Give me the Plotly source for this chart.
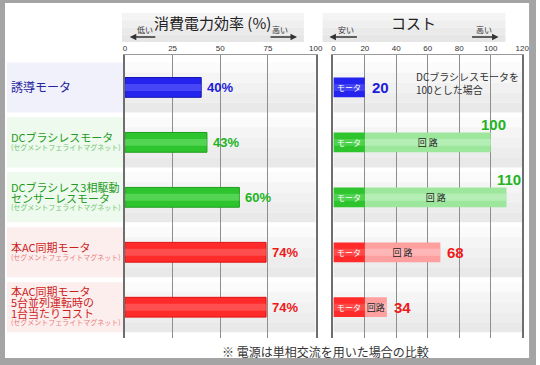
import plotly.graph_objects as go

# ---------------- data ----------------
categories = [
    "誘導モータ",
    "DCブラシレスモータ",
    "DCブラシレス3相駆動センサーレスモータ",
    "本AC同期モータ",
    "本AC同期モータ5台並列運転時の1台当たりコスト",
]
label_lines = [
    ["誘導モータ"],
    ["DCブラシレスモータ"],
    ["DCブラシレス3相駆動", "センサーレスモータ"],
    ["本AC同期モータ"],
    ["本AC同期モータ", "5台並列運転時の", "1台当たりコスト"],
]
label_subs = [
    "",
    "(セグメントフェライトマグネット)",
    "(セグメントフェライトマグネット)",
    "(セグメントフェライトマグネット)",
    "(セグメントフェライトマグネット)",
]
efficiency = [40, 43, 60, 74, 74]          # 消費電力効率 (%)
cost_total = [20, 100, 110, 68, 34]        # コスト (DCブラシレス=100)
cost_motor = [20, 20, 20, 20, 20]          # モータ部分
circuit_text = ["", "回 路", "回 路", "回 路", "回路"]
eff_ticks = [0, 25, 50, 75, 100]
cost_ticks = [0, 20, 40, 60, 80, 100, 120]

# ---------------- styles ----------------
W, H = 540, 365
def px(x): return x / W
def py(y): return 1 - y / H

FONT = "Noto Sans CJK JP, sans-serif"
NUMFONT = "Liberation Sans, Arial, sans-serif"

bar_main = ["#2424ee", "#2ec42e", "#2ec42e", "#ff2a2a", "#ff2a2a"]
bar_edge = ["#1414b4", "#1f9e1f", "#1f9e1f", "#e01212", "#e01212"]
bar_hi = ["#6a6aff", "#78e678", "#78e678", "#ff7272", "#ff7272"]
circ_main = ["#9de79d", "#9de79d", "#9de79d", "#ffa0a0", "#ffa0a0"]
circ_hi = ["#c4f3c4", "#c4f3c4", "#c4f3c4", "#ffc4c4", "#ffc4c4"]
val_col = ["#1c1cd8", "#22b422", "#22b422", "#ee1a1a", "#ee1a1a"]
lab_col = ["#24249c", "#1f9a1f", "#1f9a1f", "#cc1c1c", "#cc1c1c"]
sub_col = ["#8888cc", "#6cc46c", "#6cc46c", "#e77a7a", "#e77a7a"]
band_col = ["#f1f1fc", "#eefaee", "#eefaee", "#fdeeee", "#fdeeee"]

BW = 0.36
circuit = [t - m for t, m in zip(cost_total, cost_motor)]

fig = go.Figure()

# left panel : efficiency
fig.add_trace(go.Bar(
    x=efficiency, y=categories, orientation="h", width=BW,
    marker=dict(color=bar_main, line=dict(color=bar_edge, width=1)),
    xaxis="x", yaxis="y", hoverinfo="skip", showlegend=False,
))
fig.add_trace(go.Bar(
    x=efficiency, y=categories, orientation="h", width=BW * 0.35,
    marker=dict(color=bar_hi, line=dict(width=0), opacity=0.5),
    xaxis="x", yaxis="y", hoverinfo="skip", showlegend=False,
))

# right panel : cost (motor + circuit)
fig.add_trace(go.Bar(
    x=circuit, y=categories, base=cost_motor, orientation="h", width=BW,
    marker=dict(color=circ_main, line=dict(width=0)),
    xaxis="x2", yaxis="y2", hoverinfo="skip", showlegend=False,
))
fig.add_trace(go.Bar(
    x=circuit, y=categories, base=cost_motor, orientation="h", width=BW * 0.35,
    marker=dict(color=circ_hi, line=dict(width=0), opacity=0.6),
    text=circuit_text, textposition="inside", insidetextanchor="middle",
    constraintext="none", textangle=0,
    textfont=dict(color="#222222", size=9, family=FONT),
    xaxis="x2", yaxis="y2", hoverinfo="skip", showlegend=False,
))
fig.add_trace(go.Bar(
    x=cost_motor, y=categories, orientation="h", width=BW,
    marker=dict(color=bar_main, line=dict(width=0)),
    xaxis="x2", yaxis="y2", hoverinfo="skip", showlegend=False,
))
fig.add_trace(go.Bar(
    x=cost_motor, y=categories, orientation="h", width=BW * 0.35,
    marker=dict(color=bar_hi, line=dict(width=0), opacity=0.45),
    text=["モータ"] * len(categories), textposition="inside", insidetextanchor="middle",
    constraintext="none", textangle=0,
    textfont=dict(color="white", size=8, family=FONT),
    xaxis="x2", yaxis="y2", hoverinfo="skip", showlegend=False,
))

shapes = []
annotations = []

# row bands (gray gradient) in both panels and coloured label bands
grads = ["#fbfbfb", "#f5f5f5", "#f1f1f1", "#ededed", "#e9e9e9"]
half = 0.455
for i, c in enumerate(categories):
    for xr, yr, xmax in (("x", "y", eff_ticks[-1]), ("x2", "y2", cost_ticks[-1])):
        n = len(grads)
        for k, g in enumerate(grads):
            shapes.append(dict(type="rect", xref=xr, yref=yr, x0=0, x1=xmax,
                               y0=i - half + 2 * half * k / n, y1=i - half + 2 * half * (k + 1) / n,
                               fillcolor=g, line=dict(width=0), layer="below"))
    shapes.append(dict(type="rect", xref="paper", yref="y", x0=px(5), x1=px(123),
                       y0=i - half, y1=i + half, fillcolor=band_col[i],
                       line=dict(width=0), layer="below"))

# label text lines
for i, lines in enumerate(label_lines):
    offs = []
    cur = 0.0
    for j in range(len(lines)):
        offs.append(cur)
        cur += 11
    if label_subs[i]:
        offs.append(offs[-1] + 9.5)
    mid = (offs[0] + offs[-1]) / 2
    texts = lines + ([label_subs[i]] if label_subs[i] else [])
    for j, t in enumerate(texts):
        is_sub = label_subs[i] and j == len(texts) - 1
        annotations.append(dict(
            xref="paper", yref="y", x=px(7), y=i, xanchor="left", yanchor="middle",
            yshift=-(offs[j] - mid) + 0.5, text=t, showarrow=False,
            font=dict(size=7 if is_sub else (12 if i == 0 else 11),
                      color=sub_col[i] if is_sub else lab_col[i], family=FONT)))

# efficiency value labels
for i, v in enumerate(efficiency):
    annotations.append(dict(xref="x", yref="y", x=v, y=i, xanchor="left",
                            yanchor="middle", xshift=4, text=f"<b>{v}%</b>",
                            showarrow=False,
                            font=dict(size=13, color=val_col[i], family=NUMFONT)))

# cost value labels
for i, v in enumerate(cost_total):
    if i in (1, 2):
        annotations.append(dict(xref="x2", yref="y2", x=v, y=i, xanchor="center",
                                yanchor="middle", xshift=3, yshift=18,
                                text=f"<b>{v}</b>", showarrow=False,
                                font=dict(size=15, color=val_col[i], family=NUMFONT)))
    else:
        annotations.append(dict(xref="x2", yref="y2", x=v, y=i, xanchor="left",
                                yanchor="middle", xshift=5, yshift=0,
                                text=f"<b>{v}</b>", showarrow=False,
                                font=dict(size=15, color=val_col[i], family=NUMFONT)))

# header boxes
hgr = ["#f4f4f4", "#efefef", "#eaeaea", "#e6e6e6"]
for x0, x1 in ((122, 307), (326, 512)):
    n = len(hgr)
    for k, g in enumerate(hgr):
        shapes.append(dict(type="rect", xref="paper", yref="paper",
                           x0=px(x0), x1=px(x1),
                           y0=py(13 + 29 * (k + 1) / n), y1=py(13 + 29 * k / n),
                           fillcolor=g, line=dict(width=0), layer="below"))

def ptext(x, y, t, size, color="#222", **kw):
    d = dict(xref="paper", yref="paper", x=px(x), y=py(y), text=t, showarrow=False,
             xanchor="center", yanchor="middle",
             font=dict(size=size, color=color, family=FONT))
    d.update(kw)
    annotations.append(d)

ptext(214, 23, "消費電力効率 (%)", 15)
ptext(418, 23, "コスト", 15)
for tx, t in ((145, "低い"), (283, "高い"), (350, "安い"), (490, "高い")):
    ptext(tx, 29, t, 8, "#333")
for head, ax in ((130, 27), (300, -28), (333, 29), (505, -28)):
    annotations.append(dict(xref="paper", yref="paper", x=px(head), y=py(37), text="",
                            xanchor="center", yanchor="middle",
                            showarrow=True, ax=ax, ay=0, arrowhead=2, arrowsize=1,
                            arrowwidth=1.3, arrowcolor="#333"))

# note box
shapes.append(dict(type="rect", xref="paper", yref="paper", x0=px(408), x1=px(524),
                   y0=py(98), y1=py(68), fillcolor="white", line=dict(width=0), layer="below"))
ptext(419, 83, "DCブラシレスモータを<br>100とした場合", 10, "#333",
      xanchor="left", align="left")

# footnote
ptext(329, 351.5, "※ 電源は単相交流を用いた場合の比較", 12, "#333")

# outer frame
shapes.append(dict(type="rect", xref="paper", yref="paper", x0=0, x1=1, y0=0, y1=1,
                   line=dict(color="#a4a4a4", width=6), fillcolor="rgba(0,0,0,0)"))
shapes.append(dict(type="rect", xref="paper", yref="paper", x0=0, x1=1, y0=0, y1=py(358),
                   line=dict(width=0), fillcolor="#a4a4a4"))
shapes.append(dict(type="rect", xref="paper", yref="paper", x0=px(536), x1=1, y0=0, y1=1,
                   line=dict(width=0), fillcolor="#a4a4a4"))

xcommon = dict(side="top", showgrid=True, gridcolor="#8e8e8e", gridwidth=1.2,
               showline=True, linecolor="#9a9a9a", linewidth=1, ticks="",
               zeroline=False, fixedrange=True,
               tickfont=dict(size=8, color="#333", family=NUMFONT))
ycommon = dict(type="category", range=[4.56, -0.59], showticklabels=False, showgrid=False,
               showline=True, mirror=True, linecolor="#6e6e6e", linewidth=1.5,
               zeroline=False, fixedrange=True, ticks="")

fig.update_layout(
    width=W, height=H, margin=dict(l=0, r=0, t=0, b=0),
    paper_bgcolor="white", plot_bgcolor="white",
    barmode="overlay", showlegend=False,
    xaxis=dict(domain=[px(125), px(319)], range=[0, 100], tickvals=eff_ticks, anchor="y", **xcommon),
    xaxis2=dict(domain=[px(337), px(529)], range=[0, 120], tickvals=cost_ticks, anchor="y2", **xcommon),
    yaxis=dict(domain=[py(338), py(55)], anchor="x", **ycommon),
    yaxis2=dict(domain=[py(338), py(55)], anchor="x2", **ycommon),
    shapes=shapes, annotations=annotations,
    font=dict(family=FONT),
)

fig.write_html("out.html", config={"displayModeBar": False},
               post_script="document.body.style.margin='0';document.body.style.overflow='hidden';")
